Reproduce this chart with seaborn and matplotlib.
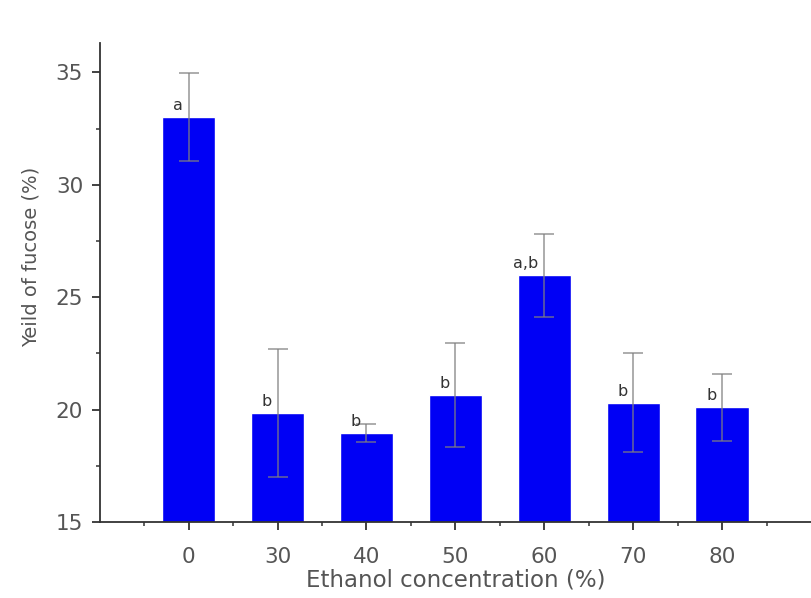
import matplotlib
matplotlib.use("Agg")
import matplotlib.pyplot as plt
import seaborn as sns
import pandas as pd
from matplotlib.ticker import MultipleLocator

concentrations = ["0", "30", "40", "50", "60", "70", "80"]
yields = [33.0, 19.85, 18.97, 20.65, 25.98, 20.3, 20.1]
errors = [1.95, 2.85, 0.4, 2.3, 1.85, 2.2, 1.5]
letters = ["a", "b", "b", "b", "a,b", "b", "b"]

sns.set_style("ticks")
plt.rcParams['font.family'] = ['DejaVu Sans']

df = pd.DataFrame({"conc": concentrations, "yield": yields})

fig = plt.figure(figsize=(8.11, 5.98), dpi=100)
ax = fig.add_axes([0.123, 0.127, 0.877, 0.801])

sns.barplot(data=df, x="conc", y="yield", order=concentrations, color="#0000f5",
            saturation=1, width=0.6, errorbar=None, ax=ax, zorder=2)

xs = list(range(len(concentrations)))
ax.errorbar(xs, yields, yerr=errors, fmt="none", ecolor="#7f7f7f", alpha=0.75,
            elinewidth=1.2, capsize=7, capthick=1.2, zorder=3)

for x, y, lab in zip(xs, yields, letters):
    ax.annotate(lab, xy=(x, y), xytext=(-4, 3), textcoords="offset points",
                ha="right", va="bottom", fontsize=11.5, color="#333333")

ax.set_ylim(15, 36.3)
ax.set_xlim(-1, 7)
ax.yaxis.set_major_locator(MultipleLocator(5))
ax.yaxis.set_minor_locator(MultipleLocator(2.5))
ax.set_xticks(xs)
ax.set_xticklabels(concentrations)
ax.set_xticks([x - 0.5 for x in range(8)], minor=True)

for side in ["top", "right"]:
    ax.spines[side].set_visible(False)
for side in ["left", "bottom"]:
    ax.spines[side].set_color("#333333")
    ax.spines[side].set_linewidth(1.3)

ax.tick_params(axis="both", which="major", length=6, width=1.3, color="#333333",
               labelsize=15.5, labelcolor="#555555")
ax.tick_params(axis="y", which="major", pad=6)
ax.tick_params(axis="x", which="major", pad=12)
ax.tick_params(axis="both", which="minor", length=3, width=1.1, color="#333333")

ax.set_xlabel("Ethanol concentration (%)", fontsize=16.5, color="#555555", labelpad=1)
ax.set_ylabel("Yeild of fucose (%)", fontsize=14, color="#555555")
ax.yaxis.set_label_coords(-0.083, 0.553)

fig.savefig("out.png", dpi=100)
